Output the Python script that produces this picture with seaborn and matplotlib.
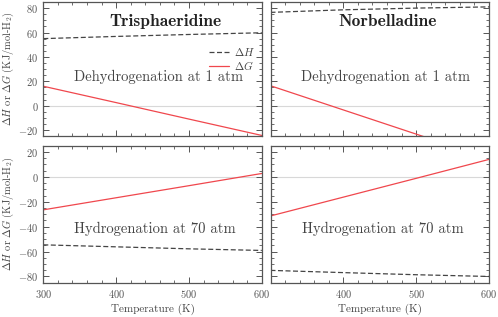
import numpy as np
import pandas as pd
import matplotlib
matplotlib.use("Agg")
import matplotlib.pyplot as plt
import seaborn as sns
from matplotlib.ticker import MultipleLocator, FixedLocator

sns.set_theme(style="white")
plt.rcParams['font.family'] = ['serif']
plt.rcParams['font.serif'] = ['cmr10']
plt.rcParams['mathtext.fontset'] = 'cm'
plt.rcParams['axes.formatter.use_mathtext'] = True
plt.rcParams['axes.unicode_minus'] = True

T = [300, 400, 500, 600]
# Dehydrogenation at 1 atm
tri_dH_dehyd = [55.0, 56.8, 58.4, 59.8]
tri_dG_dehyd = [16.0, 2.6, -10.9, -24.3]
nor_dH_dehyd = [76.5, 78.6, 80.0, 81.0]
nor_dG_dehyd = [16.4, -3.4, -23.2, -43.0]
# Hydrogenation at 70 atm
tri_dH_hyd = [-54.6, -56.2, -57.8, -59.1]
tri_dG_hyd = [-26.5, -16.8, -7.1, 2.7]
nor_dH_hyd = [-75.1, -76.9, -78.6, -80.0]
nor_dG_hyd = [-31.4, -16.3, -1.2, 14.0]

titles = ["Trisphaeridine", "Norbelladine"]
mode_labels = ["Dehydrogenation at 1 atm", "Hydrogenation at 70 atm"]
xticks_left = [300, 400, 500, 600]
xticks_right = [400, 500, 600]

data = {
    (0, 0): (tri_dH_dehyd, tri_dG_dehyd),
    (0, 1): (nor_dH_dehyd, nor_dG_dehyd),
    (1, 0): (tri_dH_hyd, tri_dG_hyd),
    (1, 1): (nor_dH_hyd, nor_dG_hyd),
}

W, H = 4.98, 3.17
fig = plt.figure(figsize=(W, H), dpi=100)
lefts = [43.3, 270.5]
width = 218.5
tops = [2.0, 145.7]
heights = [134.3, 137.0]

red = "#f0474d"
dark = "#444444"
tickc = "#555555"

for r in range(2):
    for c in range(2):
        x0 = lefts[c] / 498
        y0 = 1 - (tops[r] + heights[r]) / 317
        ax = fig.add_axes([x0, y0, width / 498, heights[r] / 317])
        dH, dG = data[(r, c)]
        df = pd.DataFrame({"T": T, "dH": dH, "dG": dG})
        ax.axhline(0, color="#d8d8d8", lw=0.8, zorder=0)
        sns.lineplot(data=df, x="T", y="dH", ax=ax, color=dark, lw=0.9,
                     linestyle=(0, (4, 2)), label=r"$\Delta H$")
        sns.lineplot(data=df, x="T", y="dG", ax=ax, color=red, lw=0.9,
                     label=r"$\Delta G$")
        ax.set_xlim(300, 600)
        if r == 0:
            ax.set_ylim(-25, 85)
        else:
            ax.set_ylim(-85, 25)
        ax.yaxis.set_major_locator(MultipleLocator(20))
        ax.yaxis.set_minor_locator(MultipleLocator(5))
        ax.xaxis.set_major_locator(FixedLocator(xticks_left if c == 0 else xticks_right))
        ax.xaxis.set_minor_locator(MultipleLocator(20))
        ax.tick_params(which="both", direction="in", top=True, right=True,
                       left=True, bottom=True, colors=tickc, labelsize=7.5,
                       labelcolor=tickc)
        ax.tick_params(which="major", length=4, width=0.7)
        ax.tick_params(which="minor", length=2, width=0.6)
        for s in ax.spines.values():
            s.set_color("#555555")
            s.set_linewidth(0.9)
        if r == 0:
            ax.tick_params(labelbottom=False)
        if c == 1:
            ax.tick_params(labelleft=False)
        ax.set_xlabel("Temperature (K)" if r == 1 else "", fontsize=8, color="#444444",
                      labelpad=3)
        ax.set_ylabel(r"$\Delta H$ or $\Delta G$ (KJ/mol-H$_2$)" if c == 0 else "",
                      fontsize=7.5, color="#444444", labelpad=1.5)
        if r == 0:
            ax.text(0.56 if c == 0 else 0.534, 0.856, titles[c], transform=ax.transAxes,
                    ha="center", va="center", fontsize=12.5, family="cmb10", color="#222222")
            ax.text(0.527, 0.44, mode_labels[0], transform=ax.transAxes,
                    ha="center", va="center", fontsize=10.5, color="#444444")
        else:
            ax.text(0.512, 0.39, mode_labels[1], transform=ax.transAxes,
                    ha="center", va="center", fontsize=10.5, color="#444444")
        if r == 0 and c == 0:
            leg = ax.legend(loc="upper right", bbox_to_anchor=(1.0, 0.72), frameon=False,
                            fontsize=8, handlelength=1.8, handletextpad=0.5,
                            labelspacing=0.05, borderaxespad=0.2)
            for t in leg.get_texts():
                t.set_color("#444444")
        else:
            lg = ax.get_legend()
            if lg is not None:
                lg.remove()

fig.savefig("out.png", dpi=100)
